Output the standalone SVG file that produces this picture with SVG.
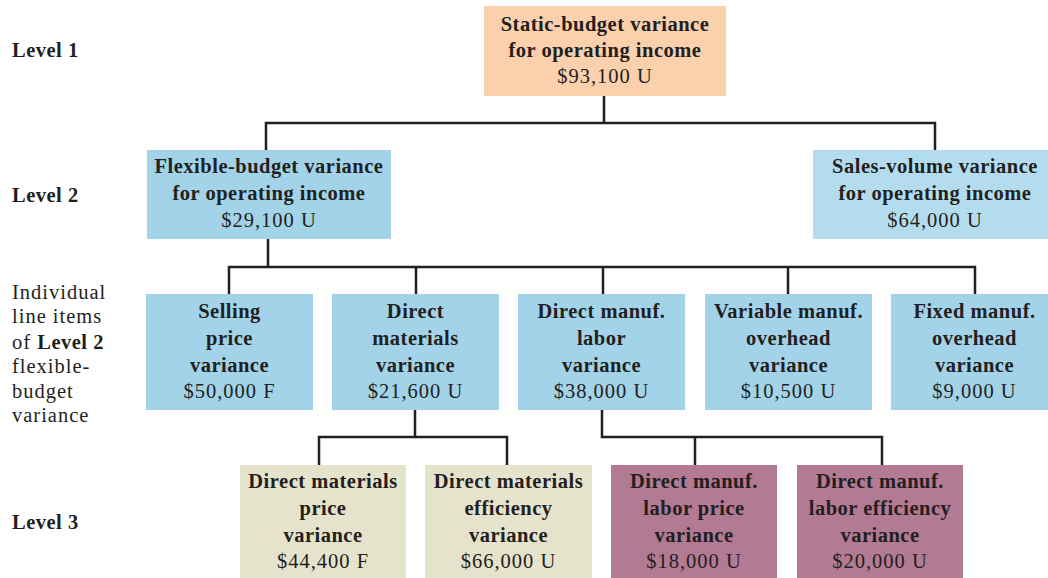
<svg xmlns="http://www.w3.org/2000/svg" width="1048" height="578" viewBox="0 0 1048 578">
<style>
text{font-family:"Liberation Serif","DejaVu Serif",serif;font-size:20.5px;fill:#231f20;text-anchor:middle;letter-spacing:1px}
.b{font-weight:bold;letter-spacing:0.5px}
.lbl{text-anchor:start}
.peach{fill:#fbd0ad}
.blue{fill:#a2d3e9}
.lblue{fill:#b3ddee}
.beige{fill:#e6e3cc}
.mauve{fill:#b27a93}
.conn{fill:none;stroke:#231f20;stroke-width:2.5}
</style>
<rect width="1048" height="578" fill="#ffffff"/>
<g id="labels">
<text class="lbl b" x="12" y="57">Level 1</text>
<text class="lbl b" x="12" y="202">Level 2</text>
<text class="lbl" x="12" y="299">Individual</text>
<text class="lbl" x="12" y="323">line items</text>
<text class="lbl" x="12" y="349">of <tspan class="b">Level 2</tspan></text>
<text class="lbl" x="12" y="373">flexible-</text>
<text class="lbl" x="12" y="398">budget</text>
<text class="lbl" x="12" y="422">variance</text>
<text class="lbl b" x="12" y="529">Level 3</text>
</g>
<g id="connectors">
<path class="conn" d="M604 96V123M266 150V123H935V150"/>
<path class="conn" d="M268 239V267M229 294V267H975V294M416 267V294M603 267V294M788 267V294"/>
<path class="conn" d="M415 410V437M319 465V437H507V465"/>
<path class="conn" d="M602 410V437H882V465M695 437V465"/>
</g>
<g id="static">
<rect class="peach" x="484" y="6" width="242" height="90"/>
<text class="b" x="605" y="31">Static-budget variance</text>
<text class="b" x="605" y="57">for operating income</text>
<text x="605" y="83">$93,100 U</text>
</g>
<g id="flexible">
<rect class="blue" x="147" y="150" width="244" height="89"/>
<text class="b" x="269" y="173">Flexible-budget variance</text>
<text class="b" x="269" y="200">for operating income</text>
<text x="269" y="227">$29,100 U</text>
</g>
<g id="salesvolume">
<rect class="lblue" x="813" y="150" width="244" height="89"/>
<text class="b" x="935" y="173">Sales-volume variance</text>
<text class="b" x="935" y="200">for operating income</text>
<text x="935" y="227">$64,000 U</text>
</g>
<g id="selling">
<rect class="blue" x="146" y="294" width="167" height="116"/>
<text class="b" x="229.5" y="318">Selling</text>
<text class="b" x="229.5" y="345">price</text>
<text class="b" x="229.5" y="372">variance</text>
<text x="229.5" y="398">$50,000 F</text>
</g>
<g id="dm">
<rect class="blue" x="332" y="294" width="167" height="116"/>
<text class="b" x="415.5" y="318">Direct</text>
<text class="b" x="415.5" y="345">materials</text>
<text class="b" x="415.5" y="372">variance</text>
<text x="415.5" y="398">$21,600 U</text>
</g>
<g id="dl">
<rect class="blue" x="518" y="294" width="167" height="116"/>
<text class="b" x="601.5" y="318">Direct manuf.</text>
<text class="b" x="601.5" y="345">labor</text>
<text class="b" x="601.5" y="372">variance</text>
<text x="601.5" y="398">$38,000 U</text>
</g>
<g id="vmoh">
<rect class="blue" x="705" y="294" width="167" height="116"/>
<text class="b" x="788.5" y="318">Variable manuf.</text>
<text class="b" x="788.5" y="345">overhead</text>
<text class="b" x="788.5" y="372">variance</text>
<text x="788.5" y="398">$10,500 U</text>
</g>
<g id="fmoh">
<rect class="blue" x="891" y="294" width="167" height="116"/>
<text class="b" x="974.5" y="318">Fixed manuf.</text>
<text class="b" x="974.5" y="345">overhead</text>
<text class="b" x="974.5" y="372">variance</text>
<text x="974.5" y="398">$9,000 U</text>
</g>
<g id="dmprice">
<rect class="beige" x="240" y="465" width="166" height="113"/>
<text class="b" x="323" y="488">Direct materials</text>
<text class="b" x="323" y="515">price</text>
<text class="b" x="323" y="542">variance</text>
<text x="323" y="568">$44,400 F</text>
</g>
<g id="dmeff">
<rect class="beige" x="425" y="465" width="167" height="113"/>
<text class="b" x="508.5" y="488">Direct materials</text>
<text class="b" x="508.5" y="515">efficiency</text>
<text class="b" x="508.5" y="542">variance</text>
<text x="508.5" y="568">$66,000 U</text>
</g>
<g id="dlprice">
<rect class="mauve" x="611" y="465" width="166" height="113"/>
<text class="b" x="694" y="488">Direct manuf.</text>
<text class="b" x="694" y="515">labor price</text>
<text class="b" x="694" y="542">variance</text>
<text x="694" y="568">$18,000 U</text>
</g>
<g id="dleff">
<rect class="mauve" x="797" y="465" width="166" height="113"/>
<text class="b" x="880" y="488">Direct manuf.</text>
<text class="b" x="880" y="515">labor efficiency</text>
<text class="b" x="880" y="542">variance</text>
<text x="880" y="568">$20,000 U</text>
</g>
</svg>
